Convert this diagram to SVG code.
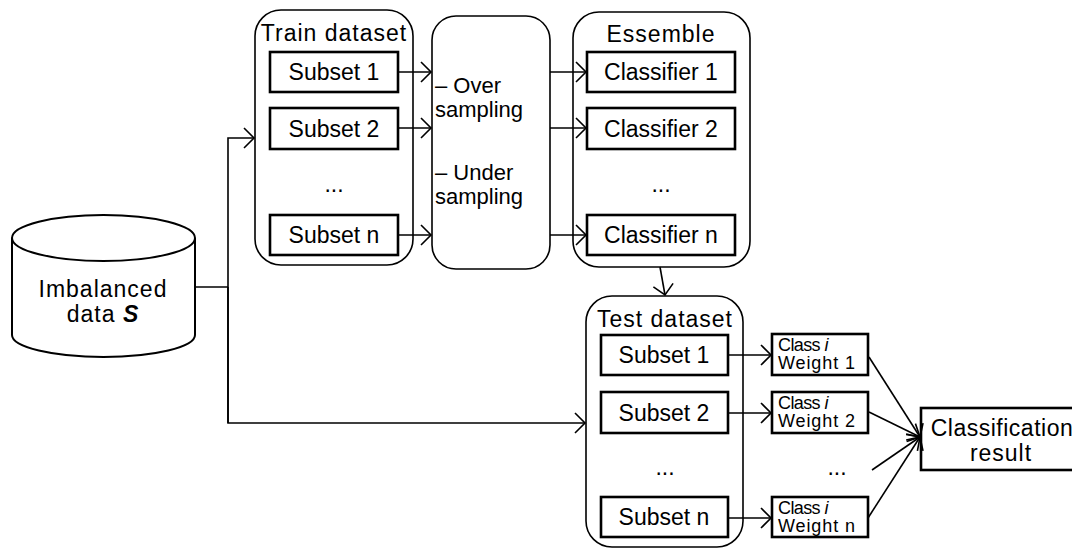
<svg xmlns="http://www.w3.org/2000/svg" width="1072" height="548" viewBox="0 0 1072 548">
  <style>
    text { font-family: "Liberation Sans", Arial, sans-serif; fill: #000; }
    .t22 { font-size: 23px; }
    .t21 { font-size: 22px; }
    .t15 { font-size: 18px; }
    .cls { letter-spacing: -0.6px; }
    .wt { letter-spacing: 0.9px; }
    .title { letter-spacing: 1px; }
    .mid { text-anchor: middle; }
    .group { fill: #fff; stroke: #000; stroke-width: 1.6; }
    .box { fill: #fff; stroke: #000; stroke-width: 2.6; }
    .conn { fill: none; stroke: #000; stroke-width: 1.6; }
  </style>
  <defs>
    <marker id="arrow" markerUnits="userSpaceOnUse" markerWidth="14" markerHeight="24" refX="11" refY="11" orient="auto" viewBox="0 0 14 22">
      <path d="M1,1 L11,11 L1,21" fill="none" stroke="#000" stroke-width="1.6"/>
    </marker>
  </defs>

  <rect width="1072" height="548" fill="#fff"/>

  <!-- Source database -->
  <g id="imbalanced-data">
    <path d="M12,238 L12,335 A91.5,22 0 0 0 195,335 L195,238" fill="#fff" stroke="#000" stroke-width="2"/>
    <ellipse cx="103.5" cy="238" rx="91.5" ry="23" fill="#fff" stroke="#000" stroke-width="2"/>
    <text class="t22 mid title" x="103" y="297">Imbalanced</text>
    <text class="t22 mid title" x="103" y="322">data <tspan font-weight="bold" font-style="italic">S</tspan></text>
  </g>

  <!-- Training split -->
  <g id="train-dataset">
    <rect class="group" x="255" y="10" width="158" height="255" rx="26"/>
    <text class="t22 mid title" x="334" y="41">Train dataset</text>
    <rect class="box" x="270" y="52" width="128" height="40"/>
    <text class="t22 mid" x="334" y="80">Subset 1</text>
    <rect class="box" x="270" y="108" width="128" height="41"/>
    <text class="t22 mid" x="334" y="137">Subset 2</text>
    <text class="t22 mid" x="334" y="192">...</text>
    <rect class="box" x="270" y="215" width="128" height="40"/>
    <text class="t22 mid" x="334" y="243">Subset n</text>
  </g>

  <!-- Resampling step -->
  <g id="sampling">
    <rect class="group" x="432" y="16" width="118" height="253" rx="24"/>
    <text class="t21" x="435" y="93">– Over</text>
    <text class="t21" x="435" y="117">sampling</text>
    <text class="t21" x="435" y="180">– Under</text>
    <text class="t21" x="435" y="204">sampling</text>
  </g>

  <!-- Ensemble of classifiers -->
  <g id="ensemble">
    <rect class="group" x="573" y="12" width="177" height="255" rx="26"/>
    <text class="t22 mid title" x="661" y="42">Essemble</text>
    <rect class="box" x="587" y="52" width="148" height="40"/>
    <text class="t22 mid" x="661" y="80">Classifier 1</text>
    <rect class="box" x="587" y="108" width="148" height="41"/>
    <text class="t22 mid" x="661" y="137">Classifier 2</text>
    <text class="t22 mid" x="661" y="192">...</text>
    <rect class="box" x="587" y="215" width="148" height="40"/>
    <text class="t22 mid" x="661" y="243">Classifier n</text>
  </g>

  <!-- Test split -->
  <g id="test-dataset">
    <rect class="group" x="586" y="296" width="157" height="251" rx="26"/>
    <text class="t22 mid title" x="665" y="327">Test dataset</text>
    <rect class="box" x="601" y="335" width="127" height="40"/>
    <text class="t22 mid" x="664" y="363">Subset 1</text>
    <rect class="box" x="601" y="392" width="127" height="41"/>
    <text class="t22 mid" x="664" y="421">Subset 2</text>
    <text class="t22 mid" x="665" y="475">...</text>
    <rect class="box" x="601" y="497" width="127" height="40"/>
    <text class="t22 mid" x="664" y="525">Subset n</text>
  </g>

  <!-- Per-subset class weights -->
  <g id="weight-1">
    <rect class="box" x="772" y="334" width="96" height="41"/>
    <text class="t15 cls" x="778" y="351">Class <tspan font-style="italic">i</tspan></text>
    <text class="t15 wt" x="778" y="369">Weight 1</text>
  </g>
  <g id="weight-2">
    <rect class="box" x="772" y="392" width="96" height="41"/>
    <text class="t15 cls" x="778" y="409">Class <tspan font-style="italic">i</tspan></text>
    <text class="t15 wt" x="778" y="427">Weight 2</text>
  </g>
  <text class="t22 mid" x="837" y="475">...</text>
  <g id="weight-n">
    <rect class="box" x="772" y="497" width="96" height="40"/>
    <text class="t15 cls" x="778" y="514">Class <tspan font-style="italic">i</tspan></text>
    <text class="t15 wt" x="778" y="532">Weight n</text>
  </g>

  <!-- Final output -->
  <g id="classification-result">
    <rect class="box" x="921" y="408" width="170" height="62"/>
    <text class="t22 mid" x="1002" y="436" letter-spacing="0.5">Classification</text>
    <text class="t22 mid" x="1001" y="461" letter-spacing="1">result</text>
  </g>

  <!-- Connectors -->
  <g id="connectors">
    <polyline class="conn" points="195,287 228,287"/>
    <polyline class="conn" points="228,423 228,138 254,138" marker-end="url(#arrow)"/>
    <polyline class="conn" points="228,287 228,423 585,423" marker-end="url(#arrow)"/>

    <line class="conn" x1="398" y1="72" x2="431" y2="72" marker-end="url(#arrow)"/>
    <line class="conn" x1="398" y1="128" x2="431" y2="128" marker-end="url(#arrow)"/>
    <line class="conn" x1="398" y1="235" x2="431" y2="235" marker-end="url(#arrow)"/>

    <line class="conn" x1="550" y1="72" x2="586" y2="72" marker-end="url(#arrow)"/>
    <line class="conn" x1="550" y1="128" x2="586" y2="128" marker-end="url(#arrow)"/>
    <line class="conn" x1="550" y1="235" x2="586" y2="235" marker-end="url(#arrow)"/>

    <line class="conn" x1="660" y1="267" x2="665" y2="295" marker-end="url(#arrow)"/>

    <line class="conn" x1="728" y1="355" x2="771" y2="355" marker-end="url(#arrow)"/>
    <line class="conn" x1="728" y1="413" x2="771" y2="413" marker-end="url(#arrow)"/>
    <line class="conn" x1="728" y1="518" x2="771" y2="518" marker-end="url(#arrow)"/>

    <line class="conn" x1="869" y1="357" x2="920" y2="437" marker-end="url(#arrow)"/>
    <line class="conn" x1="869" y1="412" x2="920" y2="437" marker-end="url(#arrow)"/>
    <line class="conn" x1="872" y1="470" x2="920" y2="437" marker-end="url(#arrow)"/>
    <line class="conn" x1="868" y1="518" x2="920" y2="437" marker-end="url(#arrow)"/>
  </g>
</svg>
